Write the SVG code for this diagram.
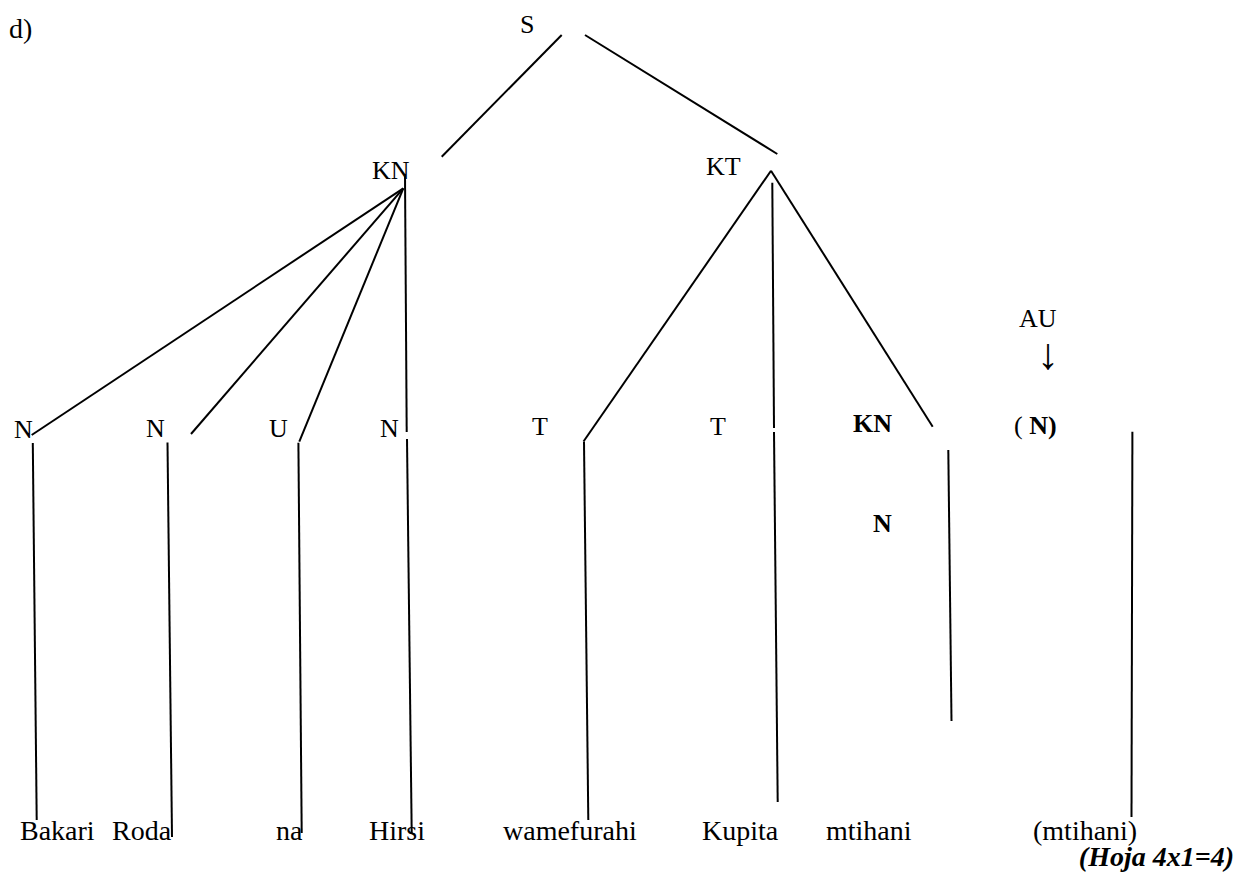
<svg xmlns="http://www.w3.org/2000/svg" width="1236" height="872" viewBox="0 0 1236 872">
<style>
text{font-family:"Liberation Serif","Times New Roman",serif;fill:#000;}
.lb{font-size:26px;}
.wd{font-size:28px;}
.b{font-weight:bold;}
.ln{stroke:#000;stroke-width:2;fill:none;stroke-linecap:butt;}
</style>
<rect width="1236" height="872" fill="#fff"/>
<g id="title"><text class="wd" x="9" y="38">d)</text></g>
<g id="connectors">
<line class="ln" x1="561.7" y1="35" x2="441.7" y2="156.7"/>
<line class="ln" x1="585" y1="35" x2="777.3" y2="154"/>
<line class="ln" x1="403.3" y1="188.3" x2="31.7" y2="435"/>
<line class="ln" x1="403.3" y1="188.3" x2="191" y2="434"/>
<line class="ln" x1="403.3" y1="188.3" x2="299.3" y2="441.7"/>
<line class="ln" x1="405" y1="175" x2="406.7" y2="432"/>
<line class="ln" x1="771" y1="170.7" x2="583.5" y2="441.5"/>
<line class="ln" x1="771" y1="170.7" x2="932.7" y2="426.7"/>
<line class="ln" x1="772.3" y1="182.7" x2="774" y2="428"/>
<line class="ln" x1="32.8" y1="443" x2="36.7" y2="820"/>
<line class="ln" x1="167.5" y1="442.5" x2="172" y2="837"/>
<line class="ln" x1="298.4" y1="442.7" x2="301.7" y2="833"/>
<line class="ln" x1="407" y1="439" x2="411.7" y2="833"/>
<line class="ln" x1="584" y1="441.7" x2="588.3" y2="820"/>
<line class="ln" x1="774" y1="432" x2="777.7" y2="802"/>
<line class="ln" x1="948.3" y1="450" x2="951.5" y2="721"/>
<line class="ln" x1="1132.4" y1="431.7" x2="1131.5" y2="817"/>
</g>
<g id="node-S"><text class="lb" x="520" y="33">S</text></g>
<g id="node-KN"><text class="lb" x="372" y="179">KN</text></g>
<g id="node-KT"><text class="lb" x="706" y="175">KT</text></g>
<g id="node-N1"><text class="lb" x="14" y="438">N</text></g>
<g id="node-N2"><text class="lb" x="146" y="437">N</text></g>
<g id="node-U"><text class="lb" x="269" y="437">U</text></g>
<g id="node-N3"><text class="lb" x="380" y="437">N</text></g>
<g id="node-T1"><text class="lb" x="532" y="435">T</text></g>
<g id="node-T2"><text class="lb" x="710" y="435">T</text></g>
<g id="node-KN2"><text class="lb b" x="853" y="432">KN</text></g>
<g id="node-N-bold"><text class="lb b" x="873" y="532">N</text></g>
<g id="node-AU"><text class="lb" x="1019" y="327">AU</text></g>
<g id="arrow"><text x="1048" y="369" text-anchor="middle" style="font-size:44px">↓</text></g>
<g id="node-N-paren"><text class="lb" x="1014" y="434">( <tspan class="b">N)</tspan></text></g>
<g id="word-Bakari"><text class="wd" x="20" y="840">Bakari</text></g>
<g id="word-Roda"><text class="wd" x="112" y="840">Roda</text></g>
<g id="word-na"><text class="wd" x="276" y="840">na</text></g>
<g id="word-Hirsi"><text class="wd" x="369" y="840">Hirsi</text></g>
<g id="word-wamefurahi"><text class="wd" x="503" y="840">wamefurahi</text></g>
<g id="word-Kupita"><text class="wd" x="702" y="840">Kupita</text></g>
<g id="word-mtihani"><text class="wd" x="826" y="840">mtihani</text></g>
<g id="word-mtihani2"><text class="wd" x="1033" y="840">(mtihani)</text></g>
<g id="marks"><text class="wd b" x="1234" y="866" text-anchor="end" style="font-style:italic">(Hoja 4x1=4)</text></g>
</svg>
